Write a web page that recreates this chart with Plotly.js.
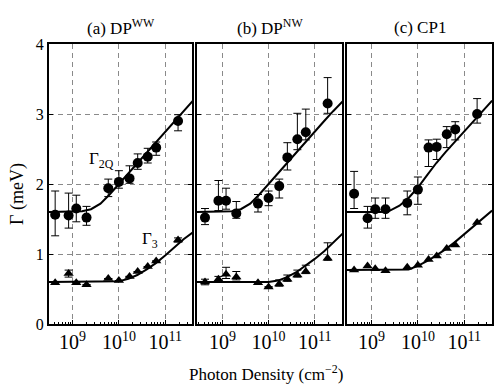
<!DOCTYPE html>
<html>
<head>
<meta charset="utf-8">
<script src="https://cdn.plot.ly/plotly-3.0.1.min.js"></script>
<style>
  body { margin: 0; background: #fff; }
  #plot { width: 499px; height: 389px; }
</style>
</head>
<body>
<div id="plot"></div>
<script>
// photon densities of the measured points (cm^-2), same for all three dots
const density = [4.2e8, 8.2e8, 1.2e9, 2.0e9, 5.9e9, 1.0e10, 1.7e10, 2.55e10, 4.2e10, 6.4e10, 1.9e11];

// (a) DP^WW
const aG2Q = [1.56, 1.55, 1.65, 1.52, 1.94, 2.03, 2.08, 2.30, 2.39, 2.52, 2.90];
const aG2QUp = [0.34, 0.32, 0.19, 0.16, 0.13, 0.16, 0.18, 0.13, 0.12, 0.08, 0.09];
const aG2QDown = [0.30, 0.18, 0.19, 0.11, 0.12, 0.09, 0.07, 0.09, 0.09, 0.11, 0.14];
const aG3 = [0.59, 0.72, 0.59, 0.56, 0.65, 0.62, 0.68, 0.75, 0.82, 0.90, 1.20];
const aG3Err = [null, 0.05, null, null, null, null, null, null, null, null, 0.03];

// (b) DP^NW
const bG2Q = [1.52, 1.76, 1.76, 1.58, 1.72, 1.80, 1.97, 2.38, 2.64, 2.74, 3.15];
const bG2QUp = [0.13, 0.29, 0.18, 0.17, 0.13, 0.10, 0.10, 0.21, 0.37, 0.33, 0.37];
const bG2QDown = [0.10, 0.14, 0.12, 0.07, 0.12, 0.11, 0.17, 0.18, 0.15, 0.11, 0.14];
const bG3 = [0.60, 0.64, 0.71, 0.67, 0.59, 0.53, 0.57, 0.64, 0.70, 0.75, 0.94];
const bG3Up = [0.04, 0.04, 0.10, 0.08, null, null, 0.06, 0.06, 0.07, 0.09, 0.22];
const bG3Down = [0.04, 0.04, 0.06, 0.04, null, null, 0.03, 0.03, 0.03, 0.03, 0.03];

// (c) CP1
const cG2Q = [1.86, 1.51, 1.64, 1.64, 1.73, 1.92, 2.52, 2.53, 2.71, 2.78, 3.00];
const cG2QUp = [0.32, 0.17, 0.16, 0.16, 0.17, 0.18, 0.11, 0.11, 0.11, 0.11, 0.22];
const cG2QDown = [0.21, 0.14, 0.13, 0.13, 0.17, 0.21, 0.27, 0.18, 0.19, 0.15, 0.13];
const cG3 = [0.77, 0.83, 0.79, 0.76, 0.81, 0.84, 0.92, 0.97, 1.08, 1.13, 1.45];

// fitted curves
const fitDensity = [2.8e8, 1e9, 1.6e9, 2.5e9, 4e9, 6.3e9, 1e10, 1.6e10, 2.5e10, 4e10, 6.3e10, 1e11, 1.6e11, 2.5e11, 4e11];
const aFit2Q = [1.60, 1.60, 1.61, 1.64, 1.72, 1.85, 2.00, 2.15, 2.30, 2.45, 2.60, 2.75, 2.90, 3.04, 3.19];
const aFit3 = [0.60, 0.60, 0.60, 0.60, 0.60, 0.60, 0.61, 0.645, 0.70, 0.78, 0.87, 0.98, 1.10, 1.21, 1.31];
const bFit2Q = [1.60, 1.60, 1.61, 1.64, 1.72, 1.85, 2.00, 2.15, 2.31, 2.46, 2.61, 2.75, 2.90, 3.04, 3.18];
const bFit3 = [0.60, 0.60, 0.60, 0.60, 0.60, 0.60, 0.60, 0.62, 0.67, 0.74, 0.83, 0.93, 1.04, 1.16, 1.29];
const cFit2Q = [1.60, 1.60, 1.60, 1.62, 1.69, 1.80, 1.95, 2.13, 2.30, 2.46, 2.60, 2.75, 2.90, 3.04, 3.19];
const cFit3 = [0.77, 0.77, 0.77, 0.77, 0.77, 0.78, 0.83, 0.90, 0.98, 1.07, 1.17, 1.28, 1.40, 1.51, 1.62];

const panelTitles = ['(a) DP<sup>WW</sup>', '(b) DP<sup>NW</sup>', '(c) CP1'];

const W = 499, H = 389;
const FONT = 'Liberation Serif';

// panel frames in pixels
const panelX = [[49, 192], [197, 342], [347, 492]];
const panelRange = [[8.49, 11.58], [8.45, 11.59], [8.47, 11.60]];
const frameTop = 44, frameBottom = 324;

function errBar(up, down) {
    return {
        type: 'data', symmetric: false, array: up, arrayminus: down,
        color: 'black', thickness: 1, width: 4
    };
}

const panels = [
    { g2q: aG2Q, up: aG2QUp, down: aG2QDown, g3: aG3, up3: aG3Err, down3: aG3Err, f2: aFit2Q, f3: aFit3 },
    { g2q: bG2Q, up: bG2QUp, down: bG2QDown, g3: bG3, up3: bG3Up, down3: bG3Down, f2: bFit2Q, f3: bFit3 },
    { g2q: cG2Q, up: cG2QUp, down: cG2QDown, g3: cG3, up3: null, down3: null, f2: cFit2Q, f3: cFit3 }
];

const traces = [];
const layout = {
    width: W, height: H,
    margin: { l: 0, r: 0, t: 0, b: 0 },
    paper_bgcolor: 'white', plot_bgcolor: 'white',
    showlegend: false,
    font: { family: FONT, color: 'black', size: 15 },
    annotations: []
};

panels.forEach((p, i) => {
    const n = i === 0 ? '' : String(i + 1);
    const xa = 'x' + n, ya = 'y' + n;

    traces.push({ x: fitDensity, y: p.f2, xaxis: xa, yaxis: ya, mode: 'lines',
        line: { color: 'black', width: 2 }, hoverinfo: 'skip' });
    traces.push({ x: fitDensity, y: p.f3, xaxis: xa, yaxis: ya, mode: 'lines',
        line: { color: 'black', width: 2 }, hoverinfo: 'skip' });

    traces.push({ x: density, y: p.g2q, xaxis: xa, yaxis: ya, mode: 'markers',
        marker: { symbol: 'circle', size: 10, color: 'black' },
        error_y: errBar(p.up, p.down) });

    const tri = { x: density, y: p.g3, xaxis: xa, yaxis: ya, mode: 'markers',
        marker: { symbol: 'triangle-up', size: 9, color: 'black' } };
    if (p.up3) tri.error_y = errBar(p.up3, p.down3);
    traces.push(tri);

    layout['xaxis' + n] = {
        type: 'log', range: panelRange[i], anchor: ya,
        domain: [panelX[i][0] / W, panelX[i][1] / W],
        dtick: 1, exponentformat: 'power',
        showgrid: true, gridcolor: '#8a8a8a', gridwidth: 1, griddash: '5px,4px',
        showline: true, linecolor: 'black', linewidth: 2, mirror: true,
        ticks: 'inside', ticklen: 4, tickcolor: 'black',
        minor: { ticks: 'inside', ticklen: 2, tickcolor: 'black', showgrid: false },
        tickfont: { family: FONT, size: 16, color: 'black' },
        zeroline: false
    };
    layout['yaxis' + n] = {
        range: [0, 4], anchor: xa,
        domain: [(H - frameBottom) / H, (H - frameTop) / H],
        dtick: 1,
        showgrid: true, gridcolor: '#8a8a8a', gridwidth: 1, griddash: '5px,4px',
        showline: true, linecolor: 'black', linewidth: 2, mirror: 'ticks',
        ticks: 'inside', ticklen: 4, tickcolor: 'black',
        showticklabels: i === 0,
        tickfont: { family: FONT, size: 16, color: 'black' },
        zeroline: false
    };

    layout.annotations.push({
        text: panelTitles[i], xref: 'paper', yref: 'paper',
        x: (panelX[i][0] + panelX[i][1]) / 2 / W, y: 1 - 27 / H,
        xanchor: 'center', yanchor: 'middle', showarrow: false,
        font: { family: FONT, size: 17, color: 'black' }
    });
});

// curve labels in panel (a)
layout.annotations.push({
    text: 'Γ<sub>2Q</sub>', xref: 'paper', yref: 'paper',
    x: 87 / W, y: 1 - 160 / H, xanchor: 'left', yanchor: 'middle', showarrow: false,
    font: { family: FONT, size: 17, color: 'black' }
});
layout.annotations.push({
    text: 'Γ<sub>3</sub>', xref: 'paper', yref: 'paper',
    x: 140 / W, y: 1 - 240 / H, xanchor: 'left', yanchor: 'middle', showarrow: false,
    font: { family: FONT, size: 17, color: 'black' }
});

// axis titles
layout.annotations.push({
    text: 'Photon Density (cm<sup>−2</sup>)', xref: 'paper', yref: 'paper',
    x: 266 / W, y: 1 - 373 / H, xanchor: 'center', yanchor: 'middle', showarrow: false,
    font: { family: FONT, size: 17, color: 'black' }
});
layout.annotations.push({
    text: 'Γ (meV)', xref: 'paper', yref: 'paper', textangle: -90,
    x: 17 / W, y: 1 - 194 / H, xanchor: 'center', yanchor: 'middle', showarrow: false,
    font: { family: FONT, size: 18, color: 'black' }
});

Plotly.newPlot('plot', traces, layout, { displayModeBar: false, staticPlot: true });
</script>
</body>
</html>
